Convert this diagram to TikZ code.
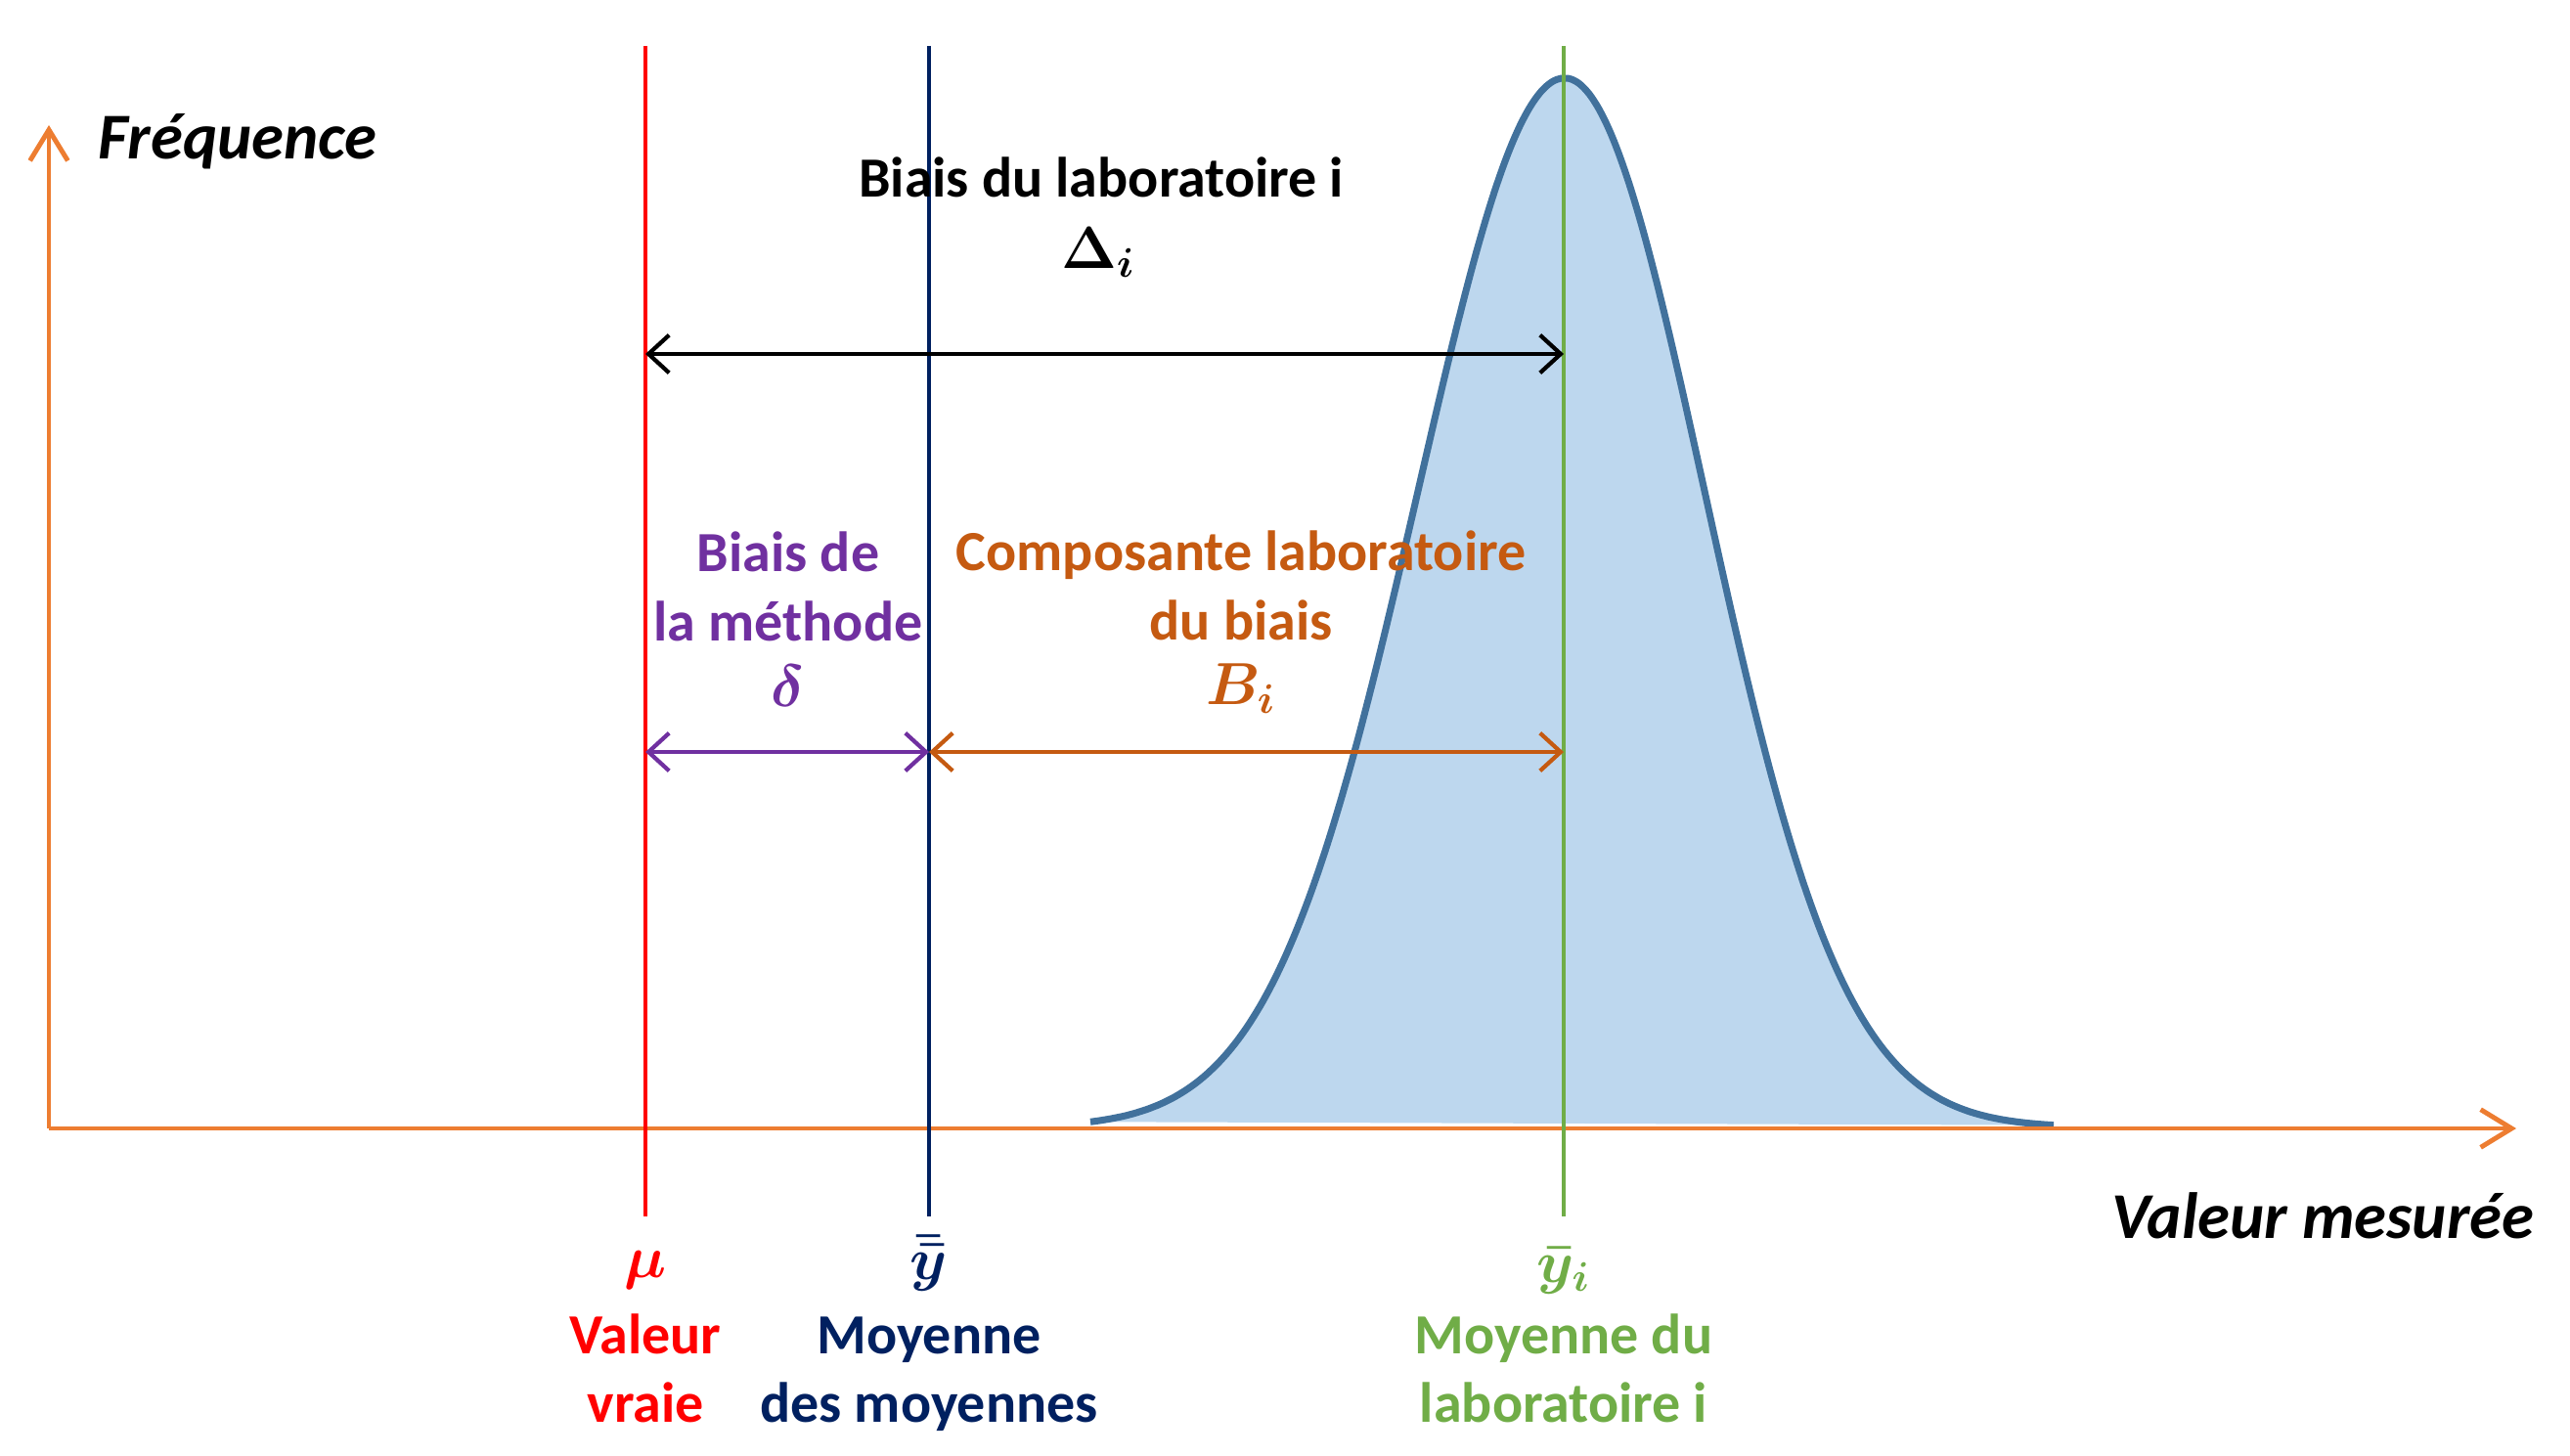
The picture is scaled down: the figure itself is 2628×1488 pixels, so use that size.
\documentclass[tikz,border=0pt]{standalone}
\usepackage{amsmath,bm}
\usepackage{fontspec}
\setmainfont{Carlito}
\usetikzlibrary{arrows.meta}
\definecolor{axisor}{HTML}{ED7D31}
\definecolor{truered}{HTML}{FF0000}
\definecolor{navy}{HTML}{002060}
\definecolor{labgreen}{HTML}{70AD47}
\definecolor{curvestroke}{HTML}{41719C}
\definecolor{curvefill}{HTML}{BDD7EE}
\definecolor{methpurple}{HTML}{7030A0}
\definecolor{laborange}{HTML}{C55A11}
\begin{document}
\begin{tikzpicture}[x=0.01cm,y=-0.01cm,
  axisline/.style={draw=axisor,line width=1.4pt,-{Straight Barb[length=9pt,width=11pt,line width=1.4pt]}},
  vline/.style={line width=1.4pt},
  dimarrow/.style={line width=1.2pt,{Straight Barb[length=6pt,width=11pt,line width=1.2pt]}-{Straight Barb[length=6pt,width=11pt,line width=1.2pt]}},
  lbl/.style={font=\bfseries\fontsize{16.5}{20}\selectfont,align=center,inner sep=0pt},
  blbl/.style={font=\bfseries\fontsize{16.5}{20}\selectfont,inner sep=0pt,anchor=base},
  axlbl/.style={font=\bfseries\itshape\fontsize{19}{23}\selectfont,inner sep=0pt},
  mlbl/.style={font=\fontsize{17}{20}\selectfont\boldmath,inner sep=0pt}]
\useasboundingbox (0,0) rectangle (2628,1488);

% bell curve
\fill[curvefill] plot[domain=1115:1600,samples=120,smooth] (\x,{1153-1073*exp(-((\x-1600)/150)^2/2)})
  -- plot[domain=1600:2100,samples=120,smooth] (\x,{1153-1073*exp(-((\x-1600)/143)^2/2)}) -- cycle;
\draw[curvestroke,line width=2pt] plot[domain=1115:1600,samples=120,smooth] (\x,{1153-1073*exp(-((\x-1600)/150)^2/2)})
  -- plot[domain=1600:2100,samples=120,smooth] (\x,{1153-1073*exp(-((\x-1600)/143)^2/2)});

% axes
\coordinate (O) at (50,1154);
\coordinate (Ytop) at (50,128);
\coordinate (Xend) at (2573,1154);
\draw[axisline] (O) -- (Ytop);
\draw[axisline] (O) -- (Xend);

% vertical lines
\coordinate (muT) at (660,47);   \coordinate (muB) at (660,1244);
\coordinate (ybT) at (950,47);   \coordinate (ybB) at (950,1244);
\coordinate (yiT) at (1599,47);  \coordinate (yiB) at (1599,1244);
\draw[vline,truered] (muT) -- (muB);
\draw[vline,navy] (ybT) -- (ybB);
\draw[vline,labgreen] (yiT) -- (yiB);

% dimension arrows
\coordinate (bkL) at (660,362);  \coordinate (bkR) at (1599,362);
\coordinate (puL) at (660,769);  \coordinate (puR) at (950,769);
\coordinate (orL) at (950,769);  \coordinate (orR) at (1599,769);
\draw[dimarrow,black] (bkL) -- (bkR);
\draw[dimarrow,methpurple] (puL) -- (puR);
\draw[dimarrow,laborange] (orL) -- (orR);

% axis labels
\node[axlbl,anchor=west] (freq) at (100,145) {Fréquence};
\node[axlbl,anchor=east] (valmes) at (2592,1243) {Valeur mesurée};

% bias labels
\node[lbl] (biaislab) at (1126,181) {Biais du laboratoire i};
\node[mlbl] (Delta) at (1123,258) {$\bm{\Delta_i}$};
\node[lbl,text=methpurple] (biaismeth) at (806,600) {Biais de\\la méthode};
\node[mlbl,text=methpurple] (delta) at (806,701) {$\bm{\delta}$};
\node[lbl,text=laborange] (comp) at (1269,599) {Composante laboratoire\\du biais};
\node[mlbl,text=laborange] (Bi) at (1269,704) {$\bm{B_i}$};

% bottom labels
\node[mlbl,text=truered] (mu) at (660,1299) {$\bm{\mu}$};
\node[blbl,text=truered] (vv1) at (660,1384) {Valeur};
\node[blbl,text=truered] (vv2) at (660,1454) {vraie};
\node[mlbl,text=navy] (ybb) at (950,1292) {$\bm{\bar{\bar{y}}}$};
\node[blbl,text=navy] (mm1) at (950,1384) {Moyenne};
\node[blbl,text=navy] (mm2) at (950,1454) {des moyennes};
\node[mlbl,text=labgreen] (ybi) at (1599,1299) {$\bm{\bar{y}_i}$};
\node[blbl,text=labgreen] (ml1) at (1599,1384) {Moyenne du};
\node[blbl,text=labgreen] (ml2) at (1599,1454) {laboratoire i};
\end{tikzpicture}
\end{document}
